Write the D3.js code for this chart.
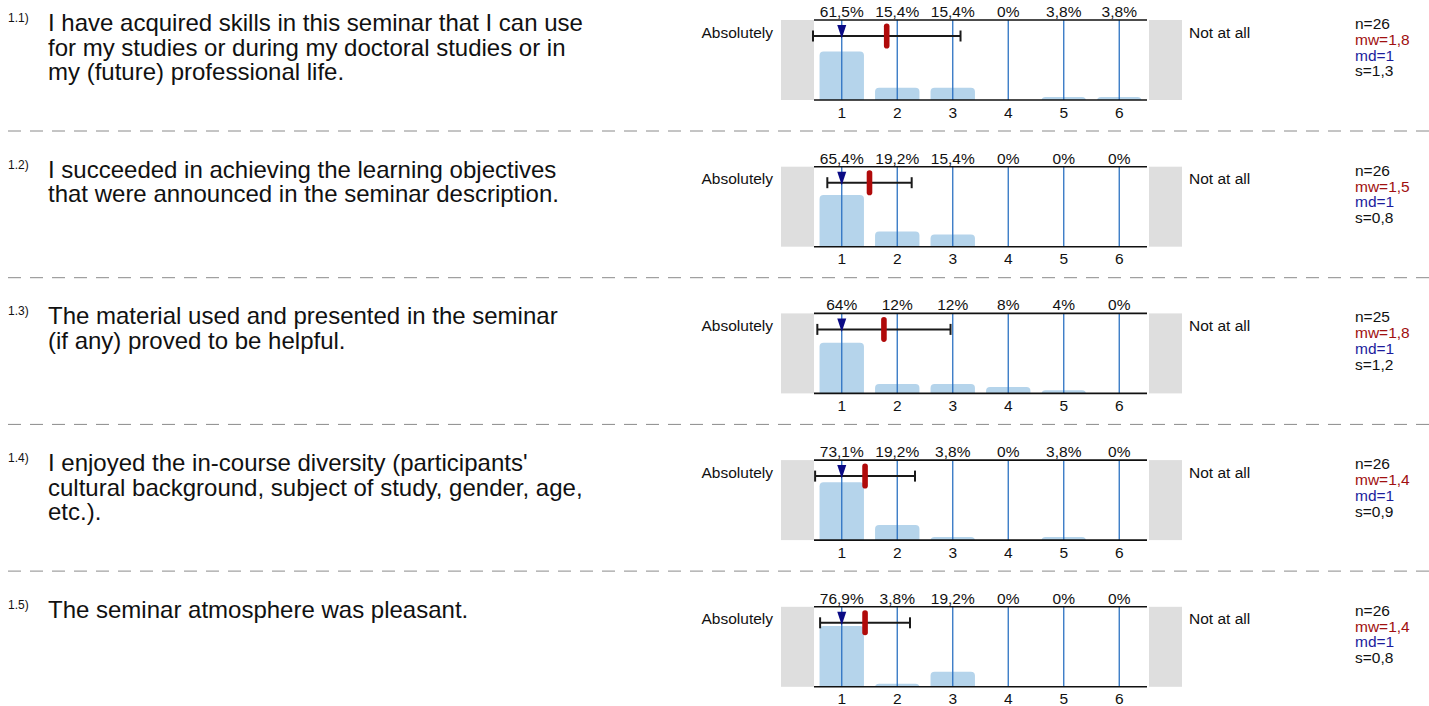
<!DOCTYPE html>
<html>
<head>
<meta charset="utf-8">
<script src="https://cdn.jsdelivr.net/npm/d3@7"></script>
<style>
  html, body { margin: 0; padding: 0; background: #fff; }
  svg { display: block; font-family: "Liberation Sans", Arial, sans-serif; }
</style>
</head>
<body>
<svg id="chart" width="1429" height="706"></svg>
<script>
// ---------- data ----------
const itemIds = ["1.1)", "1.2)", "1.3)", "1.4)", "1.5)"];
const questionLines = [
  ["I have acquired skills in this seminar that I can use", "for my studies or during my doctoral studies or in", "my (future) professional life."],
  ["I succeeded in achieving the learning objectives", "that were announced in the seminar description."],
  ["The material used and presented in the seminar", "(if any) proved to be helpful."],
  ["I enjoyed the in-course diversity (participants'", "cultural background, subject of study, gender, age,", "etc.)."],
  ["The seminar atmosphere was pleasant."]
];
const scaleCategories = [1, 2, 3, 4, 5, 6];
const leftPole = "Absolutely";
const rightPole = "Not at all";
const percentages = [
  [61.5, 15.4, 15.4, 0, 3.8, 3.8],
  [65.4, 19.2, 15.4, 0, 0, 0],
  [64, 12, 12, 8, 4, 0],
  [73.1, 19.2, 3.8, 0, 3.8, 0],
  [76.9, 3.8, 19.2, 0, 0, 0]
];
const nValues = [26, 26, 25, 26, 26];
const meanValues = [1.81, 1.5, 1.76, 1.42, 1.42];
const medianValues = [1, 1, 1, 1, 1];
const sdValues = [1.33, 0.76, 1.2, 0.9, 0.81];

// ---------- layout ----------
const svg = d3.select("#chart");
const plotLeft = 814, plotRight = 1147;
const rowPitch = 146.7, firstTop = 20, boxH = 80;
const smallFont = 15.5;
const fmt = v => (Math.round(v * 10) / 10).toString().replace(".", ",");
const fmtPct = v => fmt(v) + "%";

const xBand = d3.scaleBand().domain(scaleCategories).range([plotLeft, plotRight])
  .paddingInner(0.2).paddingOuter(0.1);
const xLin = d3.scaleLinear().domain([1, 6])
  .range([xBand(1) + xBand.bandwidth() / 2, xBand(6) + xBand.bandwidth() / 2]);

itemIds.forEach((id, i) => {
  const top = firstTop + i * rowPitch;
  const bottom = top + boxH;
  const g = svg.append("g");
  const y = d3.scaleLinear().domain([0, 100]).range([bottom, top + 1]);

  // question text
  g.append("text").attr("x", 8).attr("y", top + 2).attr("font-size", 12).attr("fill", "#111").text(id);
  const qt = g.append("text").attr("font-size", 24).attr("fill", "#111");
  questionLines[i].forEach((ln, j) => {
    qt.append("tspan").attr("x", 48).attr("y", top + 11 + j * 24.5).text(ln);
  });

  // grey pole panels
  g.append("rect").attr("x", plotLeft - 33).attr("y", top).attr("width", 33).attr("height", boxH).attr("fill", "#dedede");
  g.append("rect").attr("x", plotRight + 2).attr("y", top).attr("width", 33).attr("height", boxH).attr("fill", "#dedede");

  // pole labels
  g.append("text").attr("x", 773).attr("y", top + 17.5).attr("text-anchor", "end").attr("font-size", smallFont).attr("fill", "#111").text(leftPole);
  g.append("text").attr("x", 1189).attr("y", top + 17.5).attr("font-size", smallFont).attr("fill", "#111").text(rightPole);

  // bars
  g.selectAll("rect.bar").data(percentages[i]).enter().append("rect")
    .attr("class", "bar")
    .attr("x", (d, k) => xBand(scaleCategories[k]))
    .attr("width", xBand.bandwidth())
    .attr("y", d => y(d))
    .attr("height", d => d > 0 ? Math.max(bottom - y(d) + 4, 0) : 0)
    .attr("rx", 4).attr("ry", 4)
    .attr("fill", "#b5d4eb");
  // cover the rounded bottom overflow
  g.append("rect").attr("x", plotLeft).attr("y", bottom).attr("width", plotRight - plotLeft).attr("height", 6).attr("fill", "#fff");

  // vertical grid lines
  g.selectAll("line.v").data(scaleCategories).enter().append("line")
    .attr("x1", d => xLin(d)).attr("x2", d => xLin(d))
    .attr("y1", top).attr("y2", bottom)
    .attr("stroke", "#2c72c2").attr("stroke-width", 1.3);

  // frame lines
  [top, bottom].forEach(yy => {
    g.append("line").attr("x1", plotLeft).attr("x2", plotRight).attr("y1", yy).attr("y2", yy)
      .attr("stroke", "#111").attr("stroke-width", 1.6);
  });

  // percentage labels
  g.selectAll("text.pct").data(percentages[i]).enter().append("text")
    .attr("x", (d, k) => xLin(scaleCategories[k])).attr("y", top - 3)
    .attr("text-anchor", "middle").attr("font-size", 15.5).attr("fill", "#111")
    .text(d => fmtPct(d));

  // tick labels
  g.selectAll("text.tick").data(scaleCategories).enter().append("text")
    .attr("x", d => xLin(d)).attr("y", bottom + 17.5)
    .attr("text-anchor", "middle").attr("font-size", 15.5).attr("fill", "#111")
    .text(d => d);

  // error bar (mean +/- sd)
  const eY = top + 16;
  const lo = Math.max(xLin(meanValues[i] - sdValues[i]), plotLeft - 1);
  const hi = Math.min(xLin(meanValues[i] + sdValues[i]), plotRight);
  g.append("line").attr("x1", lo).attr("x2", hi).attr("y1", eY).attr("y2", eY).attr("stroke", "#1a1a1a").attr("stroke-width", 2);
  [lo, hi].forEach(xx => {
    g.append("line").attr("x1", xx).attr("x2", xx).attr("y1", eY - 5.5).attr("y2", eY + 5.5).attr("stroke", "#1a1a1a").attr("stroke-width", 2);
  });

  // median triangle
  const mx = xLin(medianValues[i]);
  g.append("path")
    .attr("d", `M${mx - 4.5},${top + 5} L${mx + 4.5},${top + 5} L${mx},${top + 18.5} Z`)
    .attr("fill", "#0b0b85");

  // mean marker
  const meanX = xLin(meanValues[i]);
  g.append("rect").attr("x", meanX - 2.8).attr("y", eY - 12.5).attr("width", 5.6).attr("height", 25)
    .attr("rx", 2.8).attr("ry", 2.8).attr("fill", "#b00a0a");

  // stats
  const stats = [
    { t: "n=" + nValues[i], c: "#111" },
    { t: "mw=" + fmt(meanValues[i]), c: "#a01010" },
    { t: "md=" + medianValues[i], c: "#1c1c9c" },
    { t: "s=" + fmt(sdValues[i]), c: "#111" }
  ];
  stats.forEach((s, j) => {
    g.append("text").attr("x", 1355).attr("y", top + 9 + j * 15.8).attr("font-size", smallFont).attr("fill", s.c).text(s.t);
  });

  // separator
  if (i < itemIds.length - 1) {
    g.append("line").attr("x1", 8).attr("x2", 1429).attr("y1", top + 111).attr("y2", top + 111)
      .attr("stroke", "#8a8a8a").attr("stroke-width", 1).attr("stroke-dasharray", "13,9");
  }
});
</script>
</body>
</html>
